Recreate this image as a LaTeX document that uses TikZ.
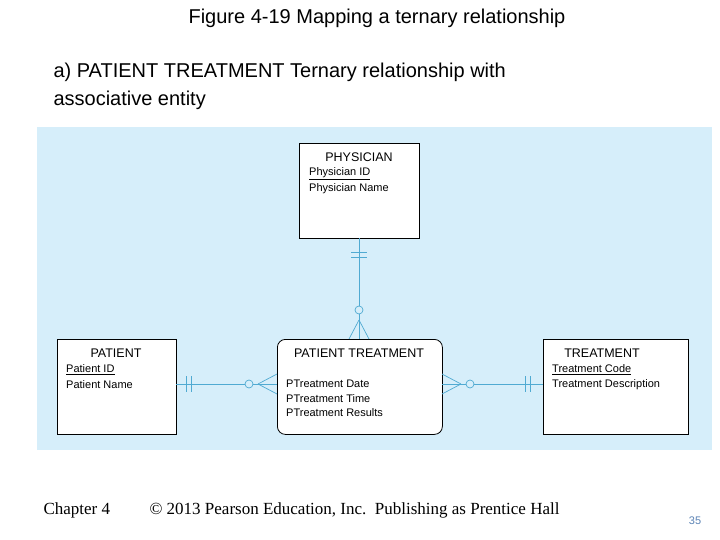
\documentclass[tikz,border=0pt]{standalone}
\usepackage{fontspec}
\setmainfont{Liberation Sans}
\newfontfamily\tms{Liberation Serif}
\definecolor{panel}{RGB}{214,238,250}
\definecolor{lnk}{RGB}{80,170,210}
\definecolor{pgnum}{RGB}{90,130,180}
\begin{document}
\begin{tikzpicture}[x=1pt,y=-1pt,
 ent/.style={draw=black,fill=white,line width=0.8pt,minimum width=#1,minimum height=95pt,inner sep=0pt,anchor=north west},
 rel/.style={lnk,line width=0.7pt},
 hd/.style={font=\fontsize{12.5}{14}\selectfont},
 attr/.style={font=\fontsize{11}{12}\selectfont,anchor=west,inner sep=0pt}]
\useasboundingbox (0,0) rectangle (720,540);
\fill[panel] (37,127) rectangle (712,450);
\node[font=\fontsize{20}{24}\selectfont] (t) at (377,18) {Figure 4-19 Mapping a ternary relationship};
\node[font=\fontsize{20}{24}\selectfont,anchor=west] (s1) at (50,72) {a) PATIENT TREATMENT Ternary relationship with};
\node[font=\fontsize{20}{24}\selectfont,anchor=west] (s2) at (50,100) {associative entity};
% entities
\node[ent=120pt] (ph) at (299,143) {};
\node[ent=119pt] (pa) at (57,339) {};
\node[ent=165pt,rounded corners=8pt] (pt) at (277,339) {};
\node[ent=145pt] (tr) at (543,339) {};
\node[hd] (phh) at (359,157) {PHYSICIAN};
\node[attr] (ph1) at (309,174) {\underline{Physician ID}};
\node[attr] (ph2) at (309,189) {Physician Name};
\node[hd] (pah) at (116,353) {PATIENT};
\node[attr] (pa1) at (66,370) {\underline{Patient ID}};
\node[attr] (pa2) at (66,385) {Patient Name};
\node[hd] (pth) at (359,353) {PATIENT TREATMENT};
\node[attr] (pt1) at (286,384) {PTreatment Date};
\node[attr] (pt2) at (286,399) {PTreatment Time};
\node[attr] (pt3) at (286,413) {PTreatment Results};
\node[hd] (trh) at (602,353) {TREATMENT};
\node[attr] (tr1) at (552,370) {\underline{Treatment Code}};
\node[attr] (tr2) at (552,385) {Treatment Description};
% connectors
\coordinate (phs) at (359,238); \coordinate (ptn) at (359,339);
\coordinate (pae) at (176,384); \coordinate (ptw) at (277,384);
\coordinate (pte) at (442,384); \coordinate (trw) at (543,384);
\draw[rel] (phs) -- (ptn);
\draw[rel] (pae) -- (ptw);
\draw[rel] (pte) -- (trw);
% physician side
\draw[rel] (351,252) -- (367,252) (351,257) -- (367,257);
\draw[rel,fill=panel] (359,310) circle (4);
\draw[rel] (359,320) -- (349,339) (359,320) -- (369,339);
% patient side
\draw[rel] (186,376) -- (186,392) (191,376) -- (191,392);
\draw[rel,fill=panel] (249,384) circle (4);
\draw[rel] (258,384) -- (277,374) (258,384) -- (277,394);
% treatment side
\draw[rel] (525,376) -- (525,392) (530,376) -- (530,392);
\draw[rel,fill=panel] (470,384) circle (4);
\draw[rel] (461,384) -- (442,374) (461,384) -- (442,394);
% footer
\node[font=\tms\fontsize{17}{20}\selectfont,anchor=west] (f1) at (40,510) {Chapter 4};
\node[font=\tms\fontsize{17}{20}\selectfont,anchor=west] (f2) at (146,510) {\textcopyright{} 2013 Pearson Education, Inc.\ \ Publishing as Prentice Hall};
\node[font=\fontsize{11}{12}\selectfont,text=pgnum] (f3) at (695,521) {35};
\end{tikzpicture}
\end{document}
